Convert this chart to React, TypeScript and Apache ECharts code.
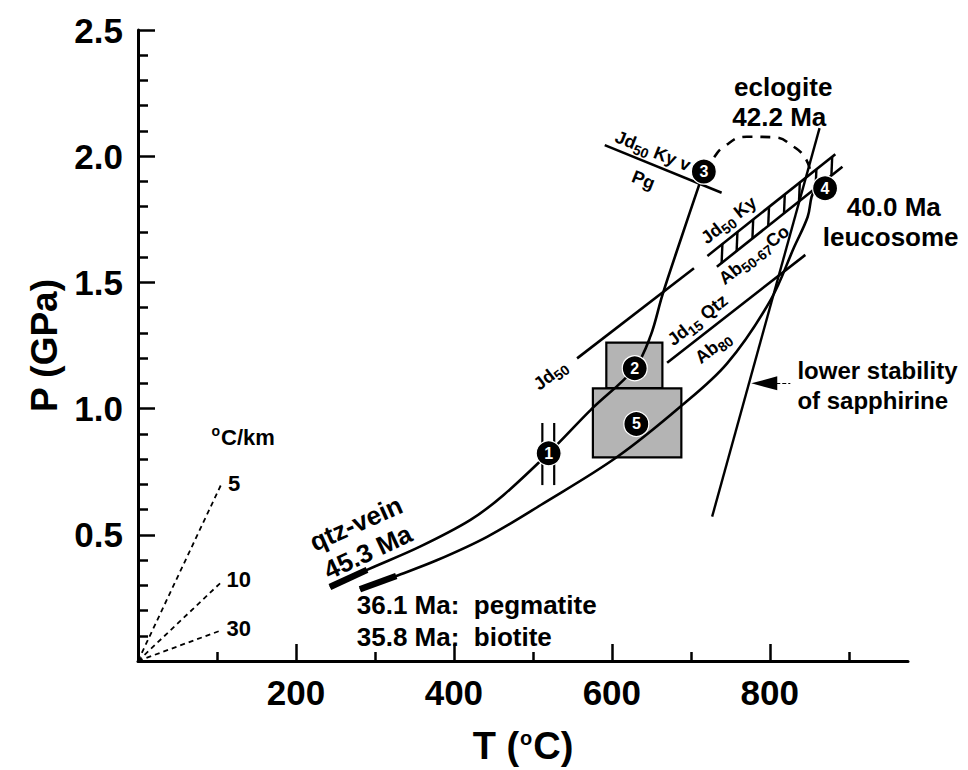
import { useEffect, useRef } from "react";
import * as echarts from "echarts";

const FONT = "'Liberation Sans', Arial, Helvetica, sans-serif";

// ---- axes ----
const T_MAX = 975;
const P_MAX = 2.5;
const xMajorTicks = [200, 400, 600, 800];
const xMinorTicks = [100, 300, 500, 700, 900];
const yTickLabels = [0.5, 1.0, 1.5, 2.0, 2.5];

// ---- P-T paths (T in °C, P in GPa) ----
const qtzVeinSegment = [[243, 0.293], [290, 0.361]];
const progradePath = [
  [243, 0.293], [290, 0.361], [357, 0.453], [421, 0.559], [463, 0.658],
  [520, 0.824], [573, 0.994], [629, 1.161], [649, 1.288], [664, 1.45], [687, 1.668], [716, 1.937],
];
const pegmatiteSegment = [[281, 0.284], [327, 0.337]];
const retrogradePath = [
  [281, 0.284], [327, 0.337], [379, 0.4], [442, 0.492], [510, 0.618], [607, 0.809],
  [687, 1.008], [746, 1.179], [801, 1.43], [831, 1.641], [848, 1.76], [853, 1.84], [858, 1.87],
];
const peakArc = [
  [716, 1.937], [727, 1.985], [742, 2.038], [771, 2.077], [805, 2.075], [830, 2.038], [845, 1.992], [851, 1.945],
];

// ---- reaction lines ----
const sapphirineLine = [[863, 2.111], [727, 0.572]];
const jd50KyPgLine = [[591, 2.044], [739, 1.855]];
const jd50Line = [[556, 1.199], [704, 1.556]];
const jd15QtzLine = [[670, 1.182], [845, 1.609]];
const jd50KyUpper = [[721, 1.605], [883, 2.008]];
const jd50KyLower = [[733, 1.562], [892, 1.958]];
const jd50KyHatch = [
  [[739, 1.576], [740, 1.653]],
  [[758, 1.623], [759, 1.700]],
  [[778, 1.673], [779, 1.750]],
  [[798, 1.723], [799, 1.799]],
  [[818, 1.773], [819, 1.849]],
  [[837, 1.821], [838, 1.896]],
  [[858, 1.873], [859, 1.948]],
  [[878, 1.923], [879, 1.997]],
];
const site1Bars = [
  [[512, 0.697], [512, 0.943]],
  [[527, 0.697], [527, 0.943]],
];

// ---- geotherms (°C/km) ----
const geotherm5 = [[0, 0], [106, 0.704]];
const geotherm10 = [[0, 0], [104, 0.308]];
const geotherm30 = [[0, 0], [104, 0.12]];

// ---- boxes: [Tmin, Tmax, Pmin, Pmax] ----
const boxes = [
  [593, 664, 1.081, 1.261],
  [576, 688, 0.807, 1.08],
];

// ---- numbered samples ----
const samplePoints = [
  [520, 0.823, "1"],
  [629, 1.16, "2"],
  [716.5, 1.939, "3"],
  [870, 1.873, "4"],
  [631, 0.939, "5"],
];

// ---- arrow to sapphirine line: [head, tail] ----
const arrowLine = [[793, 1.1], [826, 1.1]];

// ---- annotations: text, T, P ----
const annotations: [string, number, number][] = [
  ["{b|eclogite}", 817, 2.276],
  ["{b|42.2 Ma}", 812, 2.157],
  ["{b|40.0 Ma}", 957, 1.8],
  ["{b|leucosome}", 953, 1.681],
  ["{m|lower stability}", 835, 1.149],
  ["{m|of sapphirine}", 835, 1.034],
  ["{n|Jd}{s|50}{n| Ky v}", 652, 2.021],
  ["{n|Pg}", 640, 1.906],
  ["{n|Jd}{s|50}{n| Ky}", 748, 1.747],
  ["{n|Ab}{s|50-67}{n|Co}", 780, 1.609],
  ["{n|Jd}{s|15}{n| Qtz}", 708.5, 1.351],
  ["{n|Ab}{s|80}", 728, 1.242],
  ["{n|Jd}{s|50}", 522, 1.133],
  ["{b|qtz-vein}", 276, 0.545],
  ["{b|45.3 Ma}", 291, 0.432],
  ["{c|36.1 Ma:  pegmatite}", 277, 0.222],
  ["{c|35.8 Ma:  biotite}", 277, 0.096],
  ["{o|o}{g|C/km}", 93, 0.887],
  ["{g|5}", 114, 0.705],
  ["{g|10}", 112, 0.321],
  ["{g|30}", 112, 0.13],
];
// rotation (deg) and alignment per annotation index
const annotationRotate = [0, 0, 0, 0, 0, 0, -22, -22, 38, 38, 38, 38, 38, 24, 25, 0, 0, 0, 0, 0, 0];
const annotationAlign = [
  "center", "center", "center", "center", "left", "left", "center", "center", "center", "center",
  "center", "center", "center", "center", "center", "left", "left", "left", "left", "left", "left",
];

const txt = (size: number, extra: any = {}) => ({
  fontSize: size,
  fontWeight: "bold",
  fontFamily: FONT,
  color: "#000",
  textBorderWidth: 0,
  ...extra,
});

function lineSeries(data: any[], width: number, extra: any = {}) {
  return {
    type: "line",
    data,
    xAxisIndex: 0,
    yAxisIndex: 0,
    showSymbol: false,
    symbol: "none",
    silent: true,
    z: 3,
    lineStyle: { color: "#000", width, cap: "butt", opacity: 1, ...(extra.lineStyle || {}) },
    ...(extra.smooth !== undefined ? { smooth: extra.smooth } : {}),
    ...(extra.markLine ? { markLine: extra.markLine } : {}),
  };
}

export default function App() {
  const ref = useRef<HTMLDivElement>(null);
  useEffect(() => {
    if (!ref.current) return;
    const chart = echarts.init(ref.current, undefined, { renderer: "svg" });
    const gridRect = { left: 138, top: 30, width: 770, height: 631, outerBoundsMode: "none" };
    const option: any = {
      animation: false,
      backgroundColor: "#fff",
      textStyle: { color: "#000", fontFamily: FONT },
      grid: [{ ...gridRect }, { ...gridRect }],
      xAxis: [
        {
          type: "value",
          gridIndex: 0,
          min: 0,
          max: T_MAX,
          name: "{a|T (}{o|o}{a|C)}",
          nameLocation: "middle",
          nameGap: 66,
          nameTextStyle: {
            color: "#000",
            rich: {
              a: txt(38),
              o: txt(20, { padding: [0, 1, 16, 1] }),
            },
          },
          axisLine: { show: true, lineStyle: { color: "#000", width: 3 } },
          axisTick: {
            show: true,
            inside: true,
            length: 17,
            customValues: xMajorTicks,
            lineStyle: { color: "#000", width: 2.5 },
          },
          axisLabel: {
            show: true,
            customValues: xMajorTicks,
            margin: 14,
            ...txt(35),
          },
          splitLine: { show: false },
        },
        {
          type: "value",
          gridIndex: 1,
          min: 0,
          max: T_MAX,
          axisLine: { show: false },
          axisTick: {
            show: true,
            inside: true,
            length: 9,
            customValues: xMinorTicks,
            lineStyle: { color: "#000", width: 2.5 },
          },
          axisLabel: { show: false },
          splitLine: { show: false },
        },
      ],
      yAxis: [
        {
          type: "value",
          gridIndex: 0,
          min: 0,
          max: P_MAX,
          interval: 0.5,
          name: "P (GPa)",
          nameLocation: "middle",
          nameGap: 70,
          nameRotate: 90,
          nameTextStyle: txt(37),
          axisLine: { show: true, lineStyle: { color: "#000", width: 3 } },
          axisTick: { show: true, inside: true, length: 17, lineStyle: { color: "#000", width: 2.5 } },
          minorTick: { show: true, splitNumber: 5, length: 10, lineStyle: { color: "#000", width: 2.5 } },
          axisLabel: {
            show: true,
            customValues: yTickLabels,
            margin: 15,
            formatter: (v: number) => v.toFixed(1),
            ...txt(35),
          },
          splitLine: { show: false },
          minorSplitLine: { show: false },
        },
        {
          type: "value",
          gridIndex: 1,
          min: 0,
          max: P_MAX,
          show: false,
        },
      ],
      series: [
        {
          type: "custom",
          xAxisIndex: 0,
          yAxisIndex: 0,
          silent: true,
          z: 2,
          data: boxes,
          encode: { x: [0, 1], y: [2, 3] },
          renderItem: (params: any, api: any) => {
            const p1 = api.coord([api.value(0), api.value(3)]);
            const p2 = api.coord([api.value(1), api.value(2)]);
            return {
              type: "rect",
              shape: { x: p1[0], y: p1[1], width: p2[0] - p1[0], height: p2[1] - p1[1] },
              style: { fill: "#b4b4b4", stroke: "#000", lineWidth: 2.2 },
            };
          },
        },
        lineSeries(progradePath, 2.6, { smooth: 0.35 }),
        lineSeries(qtzVeinSegment, 6.5),
        lineSeries(retrogradePath, 2.6, { smooth: 0.35 }),
        lineSeries(pegmatiteSegment, 6.5),
        lineSeries(peakArc, 2.6, { smooth: 0.5, lineStyle: { type: [10, 8] } }),
        lineSeries(sapphirineLine, 2.4, {
          markLine: {
            silent: true,
            symbol: ["triangle", "none"],
            symbolSize: [14, 26],
            label: { show: false },
            lineStyle: { color: "#000", width: 1.2, type: [4, 2] },
            itemStyle: { color: "#000", opacity: 1 },
            data: [[{ coord: arrowLine[0] }, { coord: arrowLine[1] }]],
          },
        }),
        lineSeries(jd50KyPgLine, 2.6),
        lineSeries(jd50Line, 2.6),
        lineSeries(jd15QtzLine, 2.6),
        lineSeries(jd50KyUpper, 2.6),
        lineSeries(jd50KyLower, 2.6),
        ...jd50KyHatch.map((h) => lineSeries(h, 2.4)),
        ...site1Bars.map((b) => lineSeries(b, 2.2)),
        lineSeries(geotherm5, 1.8, { lineStyle: { type: [5, 4] } }),
        lineSeries(geotherm10, 1.8, { lineStyle: { type: [5, 4] } }),
        lineSeries(geotherm30, 1.8, { lineStyle: { type: [5, 4] } }),
        {
          type: "scatter",
          xAxisIndex: 0,
          yAxisIndex: 0,
          silent: true,
          z: 5,
          symbol: "circle",
          symbolSize: 25,
          data: samplePoints,
          itemStyle: { color: "#000", borderColor: "#fff", borderWidth: 1.2, opacity: 1 },
          label: {
            show: true,
            position: "inside",
            opacity: 1,
            formatter: (p: any) => p.value[2],
            ...txt(16, { color: "#fff" }),
          },
        },
        {
          type: "scatter",
          xAxisIndex: 0,
          yAxisIndex: 0,
          silent: true,
          z: 6,
          symbolSize: 1,
          itemStyle: { color: "rgba(0,0,0,0)", opacity: 1 },
          data: annotations.map((a, i) => ({
            value: [a[1], a[2]],
            label: {
              formatter: a[0],
              rotate: annotationRotate[i],
              align: annotationAlign[i],
              color: "#000",
              opacity: 1,
            },
          })),
          label: {
            show: true,
            position: "inside",
            verticalAlign: "middle",
            color: "#000",
            opacity: 1,
            textBorderWidth: 0,
            rich: {
              b: txt(26),
              m: txt(24),
              c: txt(26),
              n: txt(18),
              s: txt(14, { padding: [10, 0, 0, 0] }),
              g: txt(22),
              o: txt(14, { padding: [0, 1, 12, 0] }),
            },
          },
        },
      ],
    };
    chart.setOption(option);
    return () => chart.dispose();
  }, []);
  return (
    <div
      ref={ref}
      style={{ position: "fixed", left: 0, top: 0, width: 968, height: 770, background: "#fff" }}
    />
  );
}
